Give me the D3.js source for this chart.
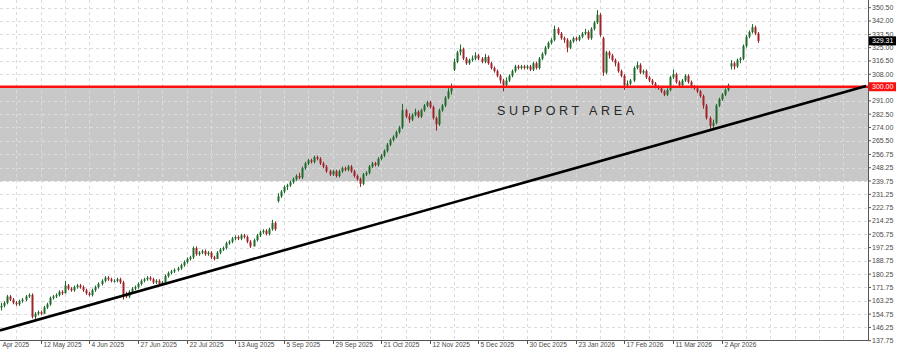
<!DOCTYPE html>
<head>
  <meta charset="utf-8">
  <script src="https://d3js.org/d3.v7.min.js"></script>
  <style>
    body { margin: 0; background: #fff; font-family: "Liberation Sans", Arial, sans-serif; }
    .grid line { stroke: #dcdcdc; stroke-dasharray: 3, 3; shape-rendering: crispEdges; }
    .axis-lbl { font-size: 7px; fill: #4a4a4a; }
    .date-lbl { font-size: 6.6px; fill: #4a4a4a; }
  </style>
</head>
<body>
<script>
// daily candles, [open, high, low, close]
var candles = [
  [159,162,157,160],[160,163,159,162],[162,167,161,166],[166,167,163,164],[164,165,161,162],
  [162,163,160,161],[161,164,160,163],[163,165,162,164],[164,167,163,166],[166,168,165,167],
  [167,168,152,153],[153,156,151,155],[155,157,154,156],[156,157,154,155],[155,160,155,159],
  [159,162,158,161],[161,166,160,165],[165,167,164,166],[166,168,165,167],[167,170,166,169],
  [169,170,167,168],[168,176,168,173],[173,174,170,171],[171,172,169,170],[170,173,169,172],
  [172,174,171,173],[173,174,171,172],[172,173,169,170],[170,171,167,168],[168,169,166,167],
  [167,171,166,170],[170,173,169,172],[172,175,171,174],[174,177,173,176],[176,179,175,178],
  [178,179,176,177],[177,178,175,176],[176,177,175,176],[176,178,175,177],[177,178,174,175],
  [175,176,164,167],[167,169,165,166],[166,170,165,169],[169,172,168,171],[171,173,170,172],
  [172,175,171,174],[174,177,173,176],[176,178,175,177],[177,179,176,178],[178,179,176,177],
  [177,178,174,175],[175,177,174,176],[176,177,173,174],[174,176,173,175],[175,180,175,179],
  [179,182,178,181],[181,183,180,182],[182,184,181,183],[183,185,182,184],[184,187,183,186],
  [186,189,185,188],[188,191,187,190],[190,192,189,191],[191,198,190,197],[197,198,192,193],
  [193,195,192,194],[194,196,193,195],[195,196,192,193],[193,195,192,194],[194,195,190,191],
  [191,192,189,190],[190,195,190,194],[194,197,193,196],[196,198,195,197],[197,201,196,200],
  [200,202,199,201],[201,204,200,203],[203,205,202,204],[204,205,202,203],[203,206,202,205],
  [205,206,203,204],[204,205,200,201],[201,202,197,198],[198,203,198,202],[202,206,201,205],
  [205,208,204,207],[207,209,206,208],[208,209,205,206],[206,210,205,209],[209,215,208,213],
  [213,214,208,209],[227,232,226,230],[230,234,229,233],[233,237,232,236],[236,238,234,237],
  [237,240,236,239],[239,242,238,241],[241,244,240,243],[243,245,241,242],[242,249,241,248],
  [248,252,247,251],[251,254,250,253],[253,254,251,252],[252,256,251,255],[255,256,253,254],
  [254,255,250,251],[251,252,248,249],[249,250,245,246],[246,247,243,244],[244,247,243,246],
  [246,247,242,243],[243,247,242,246],[246,249,245,248],[248,249,246,247],[247,250,246,249],
  [249,250,245,246],[246,247,242,243],[243,244,240,241],[241,242,236,238],[238,245,237,244],
  [244,246,243,245],[245,250,244,249],[249,252,248,251],[251,252,249,250],[250,255,249,254],
  [254,257,253,256],[256,260,255,259],[259,264,258,263],[263,267,262,266],[266,269,265,268],
  [268,272,267,271],[271,275,270,274],[274,289,273,285],[285,286,280,281],[281,283,277,279],
  [279,283,278,282],[282,286,281,284],[284,285,280,281],[281,286,280,285],[285,289,284,288],
  [288,291,287,290],[290,291,286,287],[287,288,279,280],[280,281,272,276],[276,286,275,285],
  [285,289,284,288],[288,294,287,293],[293,299,292,297],[297,302,295,300],[311,318,310,316],
  [316,323,315,322],[322,327,320,324],[324,325,317,318],[318,319,314,315],[315,318,314,317],
  [317,320,316,318],[318,322,317,320],[320,321,317,318],[318,319,315,316],[316,321,315,319],
  [319,320,314,315],[315,316,311,312],[312,313,309,310],[310,311,306,307],[307,308,302,304],
  [304,305,297,301],[301,306,300,304],[304,308,303,307],[307,311,306,310],[310,314,309,313],
  [313,314,311,312],[312,314,311,313],[313,314,311,312],[312,314,311,313],[313,314,310,311],
  [311,316,310,315],[315,316,311,312],[312,319,311,318],[318,322,317,321],[321,326,320,325],
  [325,329,324,328],[328,331,327,330],[330,339,329,337],[337,338,333,334],[334,335,330,331],
  [331,332,328,330],[330,331,322,325],[325,330,324,329],[329,332,328,331],[331,332,329,330],
  [330,333,329,332],[332,335,331,334],[334,337,333,335],[335,336,330,331],[331,338,330,337],
  [337,342,336,341],[341,349,340,346],[346,347,332,333],[331,332,307,309],[309,323,308,322],
  [322,323,318,320],[320,321,316,317],[317,318,313,315],[315,316,309,310],[310,311,306,307],
  [307,308,298,301],[301,304,300,302],[302,305,301,304],[304,313,303,312],[312,316,311,314],
  [314,315,308,309],[309,311,308,310],[310,311,305,306],[306,307,303,304],[304,305,301,302],
  [302,303,299,300],[300,301,298,299],[299,300,296,297],[297,298,294,295],[295,299,294,298],
  [298,307,297,306],[306,311,305,308],[308,309,302,303],[303,304,300,301],[301,305,300,304],
  [304,308,303,307],[307,308,302,303],[303,304,299,300],[300,301,298,299],[299,300,296,297],
  [297,298,293,294],[294,295,286,288],[288,289,279,280],[280,281,272,275],[275,279,273,277],
  [277,289,276,288],[288,293,287,292],[292,296,291,295],[295,299,294,298],[298,302,297,301],
  [313,317,311,315],[315,316,311,313],[313,318,312,317],[317,319,315,318],[318,327,317,326],
  [326,333,325,332],[332,336,331,335],[335,340,334,338],[338,339,333,334],[334,335,328,329.31]
];

var priceTicks = [350.50, 342.00, 333.50, 325.00, 316.50, 308.00, 291.00, 282.50, 274.00,
  265.50, 256.75, 248.25, 239.75, 231.25, 222.75, 214.25, 205.75, 197.25, 188.75, 180.25,
  171.75, 163.25, 154.75, 146.25, 137.75];

// first label is shown cut at the left edge in the original
var dateLabels = ["Apr 2025", "12 May 2025", "4 Jun 2025", "27 Jun 2025", "22 Jul 2025",
  "13 Aug 2025", "5 Sep 2025", "29 Sep 2025", "21 Oct 2025", "12 Nov 2025", "5 Dec 2025",
  "30 Dec 2025", "23 Jan 2026", "17 Feb 2026", "11 Mar 2026", "2 Apr 2026"];
var dateBars = [0, 13, 29, 45, 61, 77, 93, 109, 125, 141, 157, 173, 189, 205, 221, 237];

var supportTop = 300.00, supportBottom = 239.75;
var lastPrice = 329.31;
// trendline anchors: [bar, price]
var trendStart = [-0.4, 144.3], trendEnd = [284.5, 300.5];

var width = 900, height = 349;
var plotRight = 868, plotBottom = 340;

var svg = d3.select("body").append("svg")
    .attr("width", width)
    .attr("height", height);

var x = d3.scaleLinear()
    .domain([0, candles.length - 1])
    .range([1.2, 1.2 + 3.04 * (candles.length - 1)]);

var y = d3.scaleLinear()
    .domain([137.75, 350.5])
    .range([340.7, 7.7]);

svg.append("defs").append("clipPath").attr("id", "plot")
  .append("rect").attr("x", 0).attr("y", 0).attr("width", plotRight).attr("height", plotBottom);

var plot = svg.append("g").attr("clip-path", "url(#plot)");

// support zone
plot.append("rect")
    .attr("x", 0)
    .attr("y", y(supportTop))
    .attr("width", plotRight)
    .attr("height", y(supportBottom) - y(supportTop))
    .attr("fill", "#c8c8c8");

// grid
var grid = plot.append("g").attr("class", "grid");
grid.selectAll(".h")
    .data(priceTicks)
  .enter().append("line")
    .attr("x1", 0).attr("x2", plotRight)
    .attr("y1", function(d) { return Math.round(y(d)) + 0.5; })
    .attr("y2", function(d) { return Math.round(y(d)) + 0.5; });

var vBars = d3.range(5, 290, 8);
grid.selectAll(".v")
    .data(vBars)
  .enter().append("line")
    .attr("y1", 0).attr("y2", plotBottom)
    .attr("x1", function(d) { return Math.round(x(d)) + 0.5; })
    .attr("x2", function(d) { return Math.round(x(d)) + 0.5; });

plot.append("text")
    .attr("x", 497)
    .attr("y", 114.5)
    .attr("textLength", 137)
    .attr("lengthAdjust", "spacing")
    .style("font-size", "12.5px")
    .style("fill", "#262626")
    .text("SUPPORT AREA");

// candles
var up = "#1e6b2b", down = "#a0232a";
var candle = plot.append("g").selectAll("g")
    .data(candles)
  .enter().append("g");

candle.append("line")
    .attr("x1", function(d, i) { return Math.round(x(i)) + 0.5; })
    .attr("x2", function(d, i) { return Math.round(x(i)) + 0.5; })
    .attr("y1", function(d) { return y(d[1]); })
    .attr("y2", function(d) { return y(d[2]); })
    .attr("stroke", function(d) { return d[3] >= d[0] ? up : down; })
    .attr("stroke-width", 1);

candle.append("rect")
    .attr("x", function(d, i) { return Math.round(x(i)) - 0.5; })
    .attr("width", 2)
    .attr("y", function(d) { return y(Math.max(d[0], d[3])); })
    .attr("height", function(d) { return Math.max(1, Math.abs(y(d[0]) - y(d[3]))); })
    .attr("fill", function(d) { return d[3] >= d[0] ? up : down; });

// resistance-turned-support line
plot.append("line")
    .attr("x1", 0).attr("x2", plotRight)
    .attr("y1", y(supportTop)).attr("y2", y(supportTop))
    .attr("stroke", "#ff1010")
    .attr("stroke-width", 2.5);

// rising trendline
plot.append("line")
    .attr("x1", x(trendStart[0])).attr("y1", y(trendStart[1]))
    .attr("x2", x(trendEnd[0])).attr("y2", y(trendEnd[1]))
    .attr("stroke", "#000")
    .attr("stroke-width", 2.6);

// axes frame
svg.append("line")
    .attr("x1", plotRight + 0.5).attr("x2", plotRight + 0.5)
    .attr("y1", 0).attr("y2", plotBottom + 0.5)
    .attr("stroke", "#555");
svg.append("line")
    .attr("x1", 0).attr("x2", plotRight + 0.5)
    .attr("y1", plotBottom + 0.5).attr("y2", plotBottom + 0.5)
    .attr("stroke", "#555");

var yAxis = svg.append("g");
var yTick = yAxis.selectAll("g")
    .data(priceTicks)
  .enter().append("g")
    .attr("transform", function(d) { return "translate(0," + y(d) + ")"; });
yTick.append("line")
    .attr("x1", plotRight).attr("x2", plotRight + 3)
    .attr("stroke", "#555");
yTick.append("text")
    .attr("class", "axis-lbl")
    .attr("x", 872)
    .attr("dy", "0.35em")
    .text(function(d) { return d.toFixed(2); });

// price tags
function tag(value, color) {
  var g = svg.append("g").attr("transform", "translate(0," + y(value) + ")");
  g.append("rect")
      .attr("x", 869).attr("y", -4.5)
      .attr("width", 27).attr("height", 9)
      .attr("fill", color);
  g.append("text")
      .attr("x", 872)
      .attr("dy", "0.35em")
      .style("font-size", "7px")
      .style("fill", "#fff")
      .text(value.toFixed(2));
}
tag(supportTop, "#ff1010");
tag(lastPrice, "#000");

// date axis
var xTick = svg.append("g").selectAll("g")
    .data(dateLabels)
  .enter().append("g")
    .attr("transform", function(d, i) { return "translate(" + (Math.round(x(dateBars[i])) + 0.5) + ",0)"; });
xTick.filter(function(d, i) { return i > 0; }).append("line")
    .attr("y1", plotBottom).attr("y2", plotBottom + 4)
    .attr("stroke", "#555");
xTick.append("text")
    .attr("class", "date-lbl")
    .attr("x", function(d, i) { return i > 0 ? 2 : 1; })
    .attr("y", 347)
    .text(function(d) { return d; });
</script>
</body>
